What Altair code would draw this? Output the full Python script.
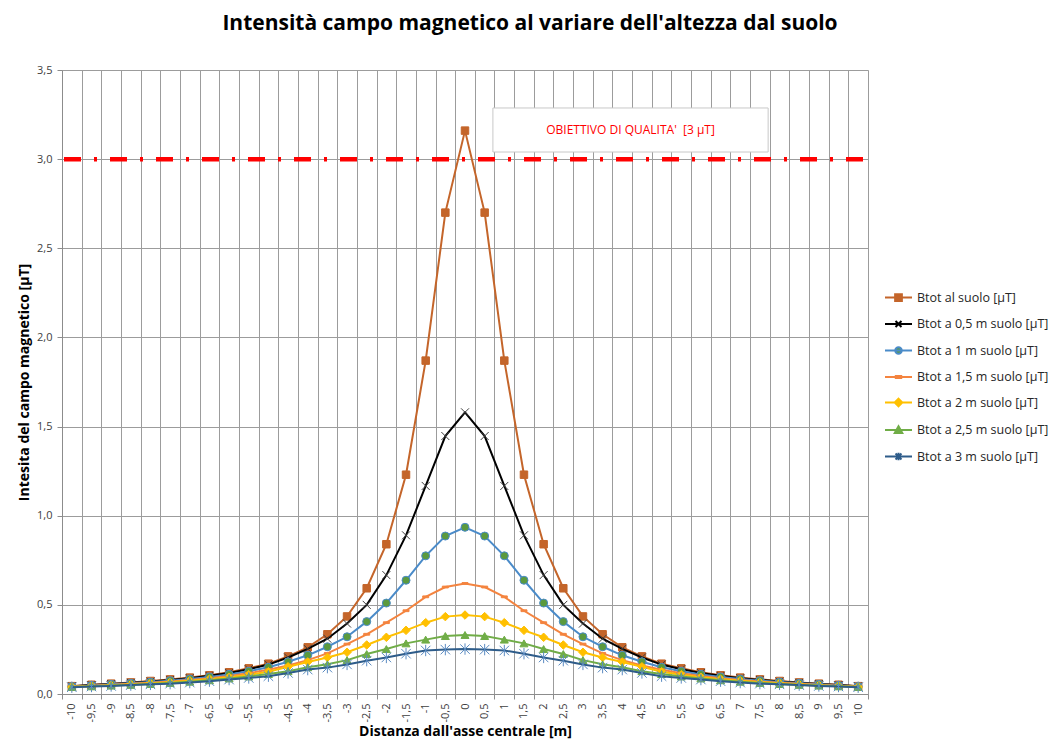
import altair as alt
import pandas as pd

# ---------------- data ----------------
distanza = [-10, -9.5, -9, -8.5, -8, -7.5, -7, -6.5, -6, -5.5, -5, -4.5, -4, -3.5, -3, -2.5, -2, -1.5, -1, -0.5,
            0, 0.5, 1, 1.5, 2, 2.5, 3, 3.5, 4, 4.5, 5, 5.5, 6, 6.5, 7, 7.5, 8, 8.5, 9, 9.5, 10]

b_suolo = [0.044, 0.052, 0.058, 0.065, 0.073, 0.082, 0.092, 0.105, 0.122, 0.144, 0.170, 0.211, 0.262, 0.335, 0.435,
           0.593, 0.84, 1.23, 1.87, 2.70, 3.16, 2.70, 1.87, 1.23, 0.84, 0.593, 0.435, 0.335, 0.262, 0.211, 0.170,
           0.144, 0.122, 0.105, 0.092, 0.082, 0.073, 0.065, 0.058, 0.052, 0.044]
b_05m = [0.043, 0.050, 0.056, 0.063, 0.070, 0.079, 0.089, 0.102, 0.118, 0.139, 0.165, 0.205, 0.253, 0.31, 0.395,
         0.50, 0.667, 0.89, 1.167, 1.447, 1.58, 1.447, 1.167, 0.89, 0.667, 0.50, 0.395, 0.31, 0.253, 0.205, 0.165,
         0.139, 0.118, 0.102, 0.089, 0.079, 0.070, 0.063, 0.056, 0.050, 0.043]
b_1m = [0.042, 0.048, 0.054, 0.060, 0.067, 0.075, 0.084, 0.096, 0.110, 0.128, 0.150, 0.181, 0.217, 0.265, 0.321,
        0.406, 0.51, 0.638, 0.775, 0.886, 0.935, 0.886, 0.775, 0.638, 0.51, 0.406, 0.321, 0.265, 0.217, 0.181,
        0.150, 0.128, 0.110, 0.096, 0.084, 0.075, 0.067, 0.060, 0.054, 0.048, 0.042]
b_15m = [0.041, 0.046, 0.051, 0.057, 0.063, 0.070, 0.079, 0.089, 0.101, 0.117, 0.136, 0.160, 0.19, 0.228, 0.28,
         0.335, 0.40, 0.467, 0.545, 0.60, 0.62, 0.60, 0.545, 0.467, 0.40, 0.335, 0.28, 0.228, 0.19, 0.160, 0.136,
         0.117, 0.101, 0.089, 0.079, 0.070, 0.063, 0.057, 0.051, 0.046, 0.041]
b_2m = [0.040, 0.044, 0.049, 0.054, 0.060, 0.066, 0.074, 0.083, 0.094, 0.108, 0.125, 0.153, 0.180, 0.205, 0.234,
        0.275, 0.318, 0.357, 0.40, 0.434, 0.443, 0.434, 0.40, 0.357, 0.318, 0.275, 0.234, 0.205, 0.180, 0.153,
        0.125, 0.108, 0.094, 0.083, 0.074, 0.066, 0.060, 0.054, 0.049, 0.044, 0.040]
b_25m = [0.039, 0.043, 0.047, 0.051, 0.056, 0.062, 0.069, 0.077, 0.087, 0.098, 0.112, 0.128, 0.15, 0.167, 0.19,
         0.224, 0.252, 0.284, 0.305, 0.325, 0.331, 0.325, 0.305, 0.284, 0.252, 0.224, 0.19, 0.167, 0.15, 0.128,
         0.112, 0.098, 0.087, 0.077, 0.069, 0.062, 0.056, 0.051, 0.047, 0.043, 0.039]
b_3m = [0.038, 0.042, 0.045, 0.050, 0.054, 0.058, 0.064, 0.072, 0.081, 0.090, 0.100, 0.118, 0.137, 0.148, 0.166,
        0.187, 0.205, 0.226, 0.244, 0.249, 0.252, 0.249, 0.244, 0.226, 0.205, 0.187, 0.166, 0.148, 0.137, 0.118,
        0.100, 0.090, 0.081, 0.072, 0.064, 0.058, 0.054, 0.050, 0.045, 0.042, 0.038]

series_names = ["Btot al suolo [µT]", "Btot a 0,5 m suolo [µT]", "Btot a 1 m suolo [µT]",
                "Btot a 1,5 m suolo [µT]", "Btot a 2 m suolo [µT]", "Btot a 2,5 m suolo [µT]",
                "Btot a 3 m suolo [µT]"]
series_values = [b_suolo, b_05m, b_1m, b_15m, b_2m, b_25m, b_3m]

y_ticks = [0, 0.5, 1.0, 1.5, 2.0, 2.5, 3.0, 3.5]
obiettivo = [3.0]
obiettivo_label = "OBIETTIVO DI QUALITA'\u00a0 [3 µT]"
box_x = [0.71, 7.71]
box_y = [3.04, 3.287]

title_text = "Intensità campo magnetico al variare dell'altezza dal suolo"
x_title = "Distanza dall'asse centrale [m]"
y_title = "Intesita del campo magnetico [µT]"

# ---------------- styles ----------------
line_colors = ["#C4652A", "#000000", "#4A8BC9", "#F4843F", "#FFC000", "#70AD47", "#2E5C8A"]
marker_fill = ["#C4652A", "#000000", "#5B9A3E", "#F4843F", "#FFC000", "#70AD47", "#5B8BC2"]
marker_stroke = ["#C4652A", "#404040", "#4A8BC9", "#F4843F", "#FFC000", "#70AD47", "#5B8BC2"]
X_PATH = "M-1,-1L1,1M-1,1L1,-1"
AST_PATH = "M-1,-1L1,1M-1,1L1,-1M0,-1.2L0,1.2"
DASH_PATH = "M-1,-0.3L1,-0.3L1,0.3L-1,0.3Z"
marker_shapes = ["square", X_PATH, "circle", DASH_PATH, "diamond", "triangle-up", AST_PATH]
marker_sizes = [56, 64, 64, 36, 72, 64, 90]
marker_filled = [True, False, True, True, True, True, False]

legend_paths = [
    "M-1,0L1,0M-0.25,-0.25L0.25,-0.25L0.25,0.25L-0.25,0.25Z",
    "M-1,0L1,0M-0.22,-0.22L0.22,0.22M-0.22,0.22L0.22,-0.22",
    "M-1,0L1,0M-0.24,0A0.24,0.24,0,1,0,0.24,0A0.24,0.24,0,1,0,-0.24,0Z",
    "M-1,0L1,0M-0.2,-0.07L0.2,-0.07L0.2,0.07L-0.2,0.07Z",
    "M-1,0L1,0M0,-0.28L0.28,0L0,0.28L-0.28,0Z",
    "M-1,0L1,0M0,-0.28L0.28,0.22L-0.28,0.22Z",
    "M-1,0L1,0M-0.22,-0.22L0.22,0.22M-0.22,0.22L0.22,-0.22M0,-0.28L0,0.28",
]

rows = []
for name, vals in zip(series_names, series_values):
    for d, v in zip(distanza, vals):
        rows.append({"distanza": d, "serie": name, "B": v})
df = pd.DataFrame(rows)

# tick positions: category centres (labels) and band boundaries (grid + ticks)
x_tick_values = []
for d in distanza:
    x_tick_values.append(d - 0.25)
    x_tick_values.append(d)
x_tick_values.append(distanza[-1] + 0.25)

FONT = "Open Sans"
boundary_test = "abs(datum.value*2 - round(datum.value*2)) > 0.1"

x_axis = alt.Axis(
    values=x_tick_values,
    labelExpr=boundary_test + " ? '' : replace(toString(datum.value), '.', ',')",
    labelAngle=270, labelFont=FONT, labelFontSize=11, labelColor="#404040", labelPadding=4,
    labelFlush=False, labelOverlap=False, labelBound=False,
    grid=True, gridColor="#9c9c9c", gridWidth=1,
    gridOpacity={"condition": {"test": boundary_test, "value": 1}, "value": 0},
    tickOpacity={"condition": {"test": boundary_test, "value": 1}, "value": 0},
    tickSize=5, tickColor="#8c8c8c", domainColor="#8c8c8c",
    titleFont=FONT, titleFontSize=14, titleFontWeight="bold", titleColor="#000000",
    titleY=41, titleBaseline="alphabetic",
)
y_axis = alt.Axis(
    values=y_ticks,
    labelExpr="replace(format(datum.value, '.1f'), '.', ',')",
    labelFont=FONT, labelFontSize=11, labelColor="#404040", labelPadding=5,
    labelFlush=False,
    grid=True, gridColor="#9c9c9c", gridWidth=1,
    tickSize=5, tickColor="#8c8c8c", domainColor="#8c8c8c",
    titleFont=FONT, titleFontSize=14, titleFontWeight="bold", titleColor="#000000",
    titleX=-38, titleBaseline="middle",
)

x_scale = alt.Scale(domain=[-10.25, 10.25], nice=False, zero=False)
y_scale = alt.Scale(domain=[0, 3.5], nice=False, zero=True)


def xq(field="distanza"):
    return alt.X(f"{field}:Q", scale=x_scale, axis=x_axis, title=x_title)


def yq(field="B"):
    return alt.Y(f"{field}:Q", scale=y_scale, axis=y_axis, title=y_title)


base = alt.Chart(df)

layers = []

# annotation box + label
box_df = pd.DataFrame({"x1": [box_x[0]], "x2": [box_x[1]], "y1": [box_y[0]], "y2": [box_y[1]],
                       "xc": [(box_x[0] + box_x[1]) / 2], "yc": [(box_y[0] + box_y[1]) / 2]})
layers.append(alt.Chart(box_df).mark_rect(fill="white", stroke="#c8c8c8", strokeWidth=1).encode(
    x=xq("x1"), x2="x2:Q", y=yq("y1"), y2="y2:Q"))
layers.append(alt.Chart(box_df).mark_text(text=obiettivo_label, color="#FF0000", font=FONT, fontSize=12).encode(
    x=xq("xc"), y=yq("yc")))

# quality objective line
layers.append(alt.Chart(pd.DataFrame({"B": obiettivo})).mark_rule(
    color="#FF0000", strokeWidth=4.5, strokeDash=[17, 13, 3, 13], strokeDashOffset=41).encode(y=yq()))

for i, name in enumerate(series_names):
    sub = base.transform_filter(alt.datum.serie == name)
    layers.append(sub.mark_line(color=line_colors[i], strokeWidth=2).encode(x=xq(), y=yq()))
    layers.append(sub.mark_point(shape=marker_shapes[i], size=marker_sizes[i], filled=marker_filled[i],
                                 fill=marker_fill[i], stroke=marker_stroke[i], strokeWidth=1,
                                 opacity=1).encode(x=xq(), y=yq()))

# legend (invisible carrier layer)
leg = alt.Legend(title=None, orient="none", legendX=822, legendY=213, symbolSize=729, symbolStrokeWidth=2,
                 symbolOpacity=1, labelFont=FONT, labelFontSize=12.5, labelColor="#262626", labelOffset=4,
                 rowPadding=4.5, labelLimit=400, padding=0)
legend_df = pd.DataFrame({"serie": series_names, "distanza": [0] * 7, "B": [0] * 7})
layers.append(alt.Chart(legend_df).mark_point(filled=True, opacity=0).encode(
    x=xq(), y=yq(),
    fill=alt.Fill("serie:N", scale=alt.Scale(domain=series_names, range=marker_fill), legend=leg),
    stroke=alt.Stroke("serie:N", scale=alt.Scale(domain=series_names, range=line_colors), legend=leg),
    shape=alt.Shape("serie:N", scale=alt.Scale(domain=series_names, range=legend_paths), legend=leg),
))

chart = alt.layer(*layers).properties(
    width=806, height=624,
    autosize=alt.AutoSizeParams(type="none"),
    padding={"left": 54, "top": 62, "right": 184, "bottom": 47},
    title=alt.TitleParams(title_text, font=FONT, fontSize=21, fontWeight="bold", color="#000000",
                          anchor="middle", dx=65, offset=30),
).configure_view(stroke=None).configure(background="white")

chart.save("out.html", embed_options={"renderer": "svg", "actions": False})
